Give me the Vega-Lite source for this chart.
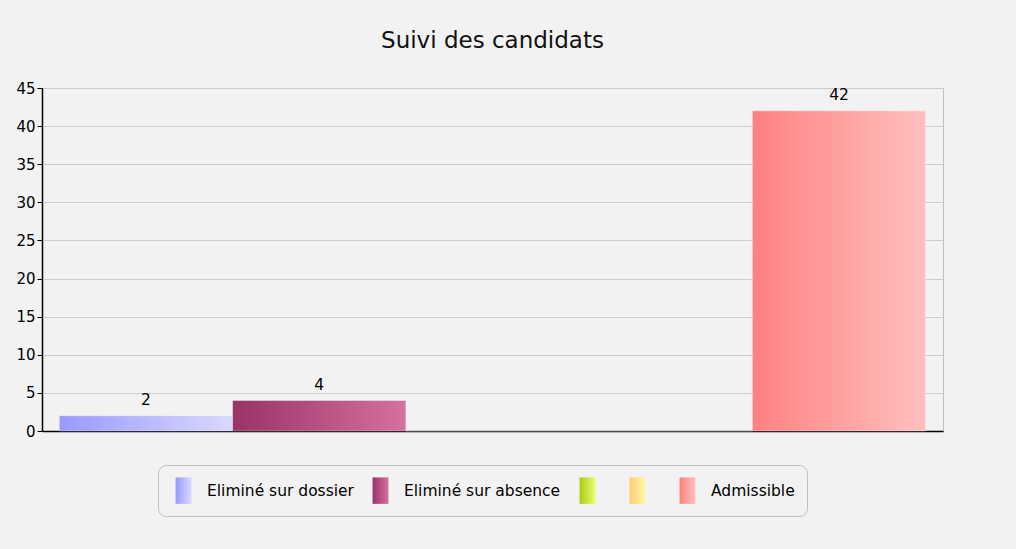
{
  "$schema": "https://vega.github.io/schema/vega-lite/v6.json",
  "width": 901,
  "height": 343,
  "autosize": {"type": "none"},
  "padding": {"left": 42, "top": 88, "right": 73, "bottom": 118},
  "background": "#f2f2f2",
  "title": {"text": "Suivi des candidats", "fontSize": 23, "font": "DejaVu Sans", "fontWeight": "normal", "color": "#111111", "anchor": "middle", "offset": 28},
  "data": {"values": [
    {"categorie": "Eliminé sur dossier", "nombre": 2},
    {"categorie": "Eliminé sur absence", "nombre": 4},
    {"categorie": "c3", "nombre": 0},
    {"categorie": "c4", "nombre": 0},
    {"categorie": "Admissible", "nombre": 42}
  ]},
  "encoding": {
    "x": {"field": "categorie", "type": "nominal", "sort": null,
      "scale": {"paddingInner": 0, "paddingOuter": 0.1},
      "axis": {"labels": false, "ticks": false, "title": null, "domainColor": "#000000", "domainWidth": 1.5, "grid": false}},
    "y": {"field": "nombre", "type": "quantitative",
      "scale": {"domain": [0, 45], "nice": false},
      "axis": {"values": [0, 5, 10, 15, 20, 25, 30, 35, 40, 45], "title": null, "domainColor": "#000000", "domainWidth": 1.5, "tickColor": "#000000", "tickSize": 5, "labelPadding": 2, "labelColor": "#000000", "labelFontSize": 15, "labelFont": "DejaVu Sans", "gridColor": "#cccccc"}}
  },
  "layer": [
    {
      "mark": {"type": "bar", "stroke": "#ffffff", "strokeOpacity": 0.35, "strokeWidth": 1},
      "encoding": {
        "color": {"field": "categorie", "type": "nominal", "sort": null,
          "scale": {
            "domain": ["Eliminé sur dossier", "Eliminé sur absence", "c3", "c4", "Admissible"],
            "range": [
              {"expr": "{gradient:'linear',x1:0,y1:0,x2:1,y2:0,stops:[{offset:0,color:'#9999ff'},{offset:1,color:'#d9d9ff'}]}"},
              {"expr": "{gradient:'linear',x1:0,y1:0,x2:1,y2:0,stops:[{offset:0,color:'#993366'},{offset:1,color:'#d670a0'}]}"},
              {"expr": "{gradient:'linear',x1:0,y1:0,x2:1,y2:0,stops:[{offset:0,color:'#a8cc10'},{offset:1,color:'#eaff70'}]}"},
              {"expr": "{gradient:'linear',x1:0,y1:0,x2:1,y2:0,stops:[{offset:0,color:'#ffcc70'},{offset:1,color:'#fff8a8'}]}"},
              {"expr": "{gradient:'linear',x1:0,y1:0,x2:1,y2:0,stops:[{offset:0,color:'#ff8080'},{offset:1,color:'#ffc0c0'}]}"}
            ]},
          "legend": {
            "orient": "none", "legendX": 116, "legendY": 377, "direction": "horizontal", "title": null,
            "labelExpr": "datum.label == 'c3' || datum.label == 'c4' ? '' : datum.label",
            "strokeColor": "#c0c0c0", "cornerRadius": 8, "padding": 12,
            "symbolType": "M-0.6,-1H0.6V1H-0.6Z", "symbolSize": 700, "symbolStrokeWidth": 0,
            "labelFontSize": 15.5, "labelFont": "DejaVu Sans", "labelColor": "#000000",
            "labelOffset": 10, "columnPadding": 13
          }}
      }
    },
    {
      "transform": [{"filter": "datum.nombre > 0"}],
      "mark": {"type": "text", "dy": -16, "fontSize": 15.5, "font": "DejaVu Sans", "color": "#000000"},
      "encoding": {"text": {"field": "nombre", "type": "quantitative"}}
    }
  ],
  "config": {"view": {"stroke": "#c0c0c0"}}
}
